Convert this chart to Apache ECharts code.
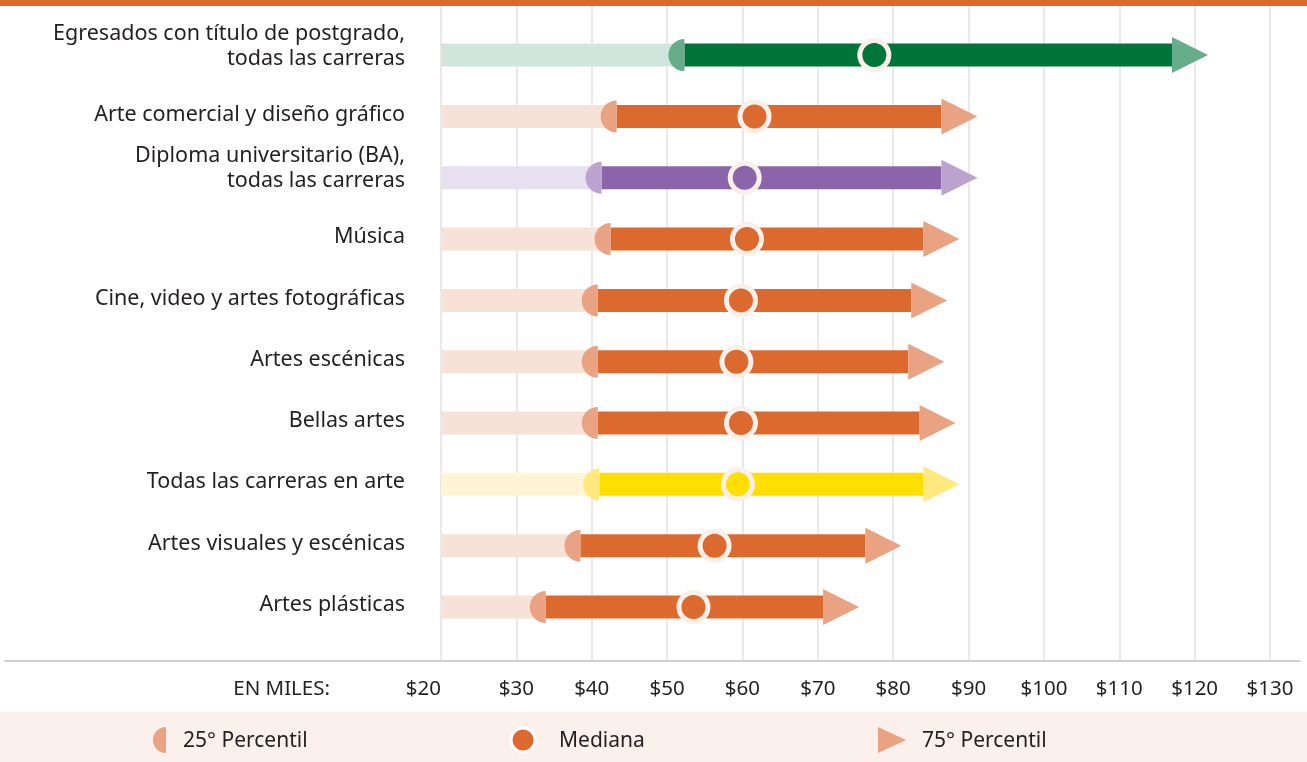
<!DOCTYPE html>
<html>
<head>
<meta charset="utf-8">
<script src="https://cdn.jsdelivr.net/npm/echarts@6/dist/echarts.min.js"></script>
<style>
  html, body { margin: 0; padding: 0; background: #fff; }
  #main { width: 1307px; height: 762px; }
</style>
</head>
<body>
<div id="main"></div>
<script>
// salarios por carrera (en miles de dólares)
var categories = [
    'Egresados con título de postgrado,\ntodas las carreras',
    'Arte comercial y diseño gráfico',
    'Diploma universitario (BA),\ntodas las carreras',
    'Música',
    'Cine, video y artes fotográficas',
    'Artes escénicas',
    'Bellas artes',
    'Todas las carreras en arte',
    'Artes visuales y escénicas',
    'Artes plásticas'
];
var p25 = [52.3, 43.3, 41.3, 42.5, 40.8, 40.8, 40.8, 41.0, 38.5, 33.9];
var median = [77.5, 61.6, 60.3, 60.6, 59.8, 59.2, 59.8, 59.4, 56.3, 53.5];
var p75 = [117.0, 86.4, 86.4, 84.0, 82.4, 82.0, 83.5, 84.0, 76.3, 70.7];
var axisMin = 20, axisMax = 130, axisStep = 10;

// colores por fila
var palette = {
    green: { light: '#d0e5db', dark: '#00753a', accent: '#67ad8a' },
    orange: { light: '#f7e2d8', dark: '#dc6a2f', accent: '#e9a282' },
    purple: { light: '#e8e0f0', dark: '#8c64aa', accent: '#bba3cf' },
    yellow: { light: '#fff5d5', dark: '#ffdf00', accent: '#ffe97e' }
};
var rowTheme = ['green', 'orange', 'purple', 'orange', 'orange', 'orange', 'orange', 'yellow', 'orange', 'orange'];

var FONT = 'Noto Sans';
var TEXT = '#231f20';

var rows = categories.map(function (c, i) {
    return [i, p25[i], median[i], p75[i]];
});

function renderRow(params, api) {
    var i = api.value(0);
    var c = palette[rowTheme[i]];
    var start = api.coord([axisMin, i]);
    var a = api.coord([api.value(1), i]);
    var m = api.coord([api.value(2), i]);
    var b = api.coord([api.value(3), i]);
    var y = a[1];
    var h = 23;
    var label = categories[i];
    var dy = label.indexOf('\n') >= 0 ? -9 : -2;
    return {
        type: 'group',
        children: [
            { type: 'rect', shape: { x: start[0], y: y - h / 2, width: a[0] - start[0], height: h }, style: { fill: c.light } },
            { type: 'rect', shape: { x: a[0], y: y - h / 2, width: b[0] - a[0], height: h }, style: { fill: c.dark } },
            { type: 'sector', shape: { cx: a[0], cy: y, r0: 0, r: 16, startAngle: Math.PI / 2, endAngle: Math.PI * 1.5, clockwise: true }, style: { fill: c.accent } },
            { type: 'polygon', shape: { points: [[b[0], y - 18], [b[0] + 36, y], [b[0], y + 18]] }, style: { fill: c.accent } },
            { type: 'circle', shape: { cx: m[0], cy: y, r: 14.5 }, style: { fill: c.dark, stroke: '#fbefe9', lineWidth: 5 } },
            {
                type: 'text', x: start[0] - 36, y: y + dy,
                style: { text: label, align: 'right', verticalAlign: 'middle', fill: TEXT, font: '21.5px "' + FONT + '"', lineHeight: 25 }
            }
        ]
    };
}

var myChart = echarts.init(document.getElementById('main'));
var option = {
    animation: false,
    backgroundColor: '#fff',
    grid: [
        { left: 441, right: 37, top: 6, bottom: 101 },
        { left: 5, right: 7, top: 655, bottom: 101 }
    ],
    xAxis: [
        {
            type: 'value', gridIndex: 0, min: axisMin, max: axisMax, interval: axisStep,
            axisLine: { show: false },
            axisTick: { show: false },
            splitLine: { show: true, lineStyle: { color: '#e2e2e2', width: 1.5 } },
            axisLabel: {
                margin: 18, color: TEXT, fontFamily: FONT, fontSize: 20.5,
                alignMinLabel: 'right',
                formatter: function (v) { return '$' + v; }
            }
        },
        {
            type: 'value', gridIndex: 1, min: 0, max: 1,
            axisLine: { show: true, lineStyle: { color: '#cfcfcf', width: 2 } },
            axisTick: { show: false }, axisLabel: { show: false }, splitLine: { show: false }
        }
    ],
    yAxis: [
        { type: 'value', gridIndex: 0, inverse: true, min: -0.8, max: 9.88, show: false },
        { type: 'value', gridIndex: 1, show: false }
    ],
    series: [
        {
            type: 'custom',
            name: 'salarios',
            xAxisIndex: 0, yAxisIndex: 0,
            renderItem: renderRow,
            encode: { x: [1, 2, 3], y: 0 },
            data: rows,
            clip: false
        }
    ],
    graphic: [
        { type: 'rect', left: 0, top: 0, shape: { width: 1307, height: 6 }, style: { fill: '#dc6a2f' } },
        {
            type: 'text', x: 330, y: 689,
            style: { text: 'EN MILES:', align: 'right', verticalAlign: 'middle', fill: TEXT, font: '20.5px "' + FONT + '"' }
        },
        // leyenda
        { type: 'rect', left: 0, top: 712, shape: { width: 1307, height: 50 }, style: { fill: '#fbf0eb' } },
        {
            type: 'sector', shape: { cx: 166, cy: 740, r0: 0, r: 13, startAngle: Math.PI / 2, endAngle: Math.PI * 1.5, clockwise: true },
            style: { fill: '#e9a282' }
        },
        { type: 'text', x: 183, y: 741, style: { text: '25° Percentil', verticalAlign: 'middle', fill: TEXT, font: '21px "' + FONT + '"' } },
        { type: 'circle', shape: { cx: 523, cy: 740, r: 12 }, style: { fill: '#dc6a2f', stroke: '#fff', lineWidth: 3 } },
        { type: 'text', x: 559, y: 741, style: { text: 'Mediana', verticalAlign: 'middle', fill: TEXT, font: '21px "' + FONT + '"' } },
        { type: 'polygon', shape: { points: [[878, 727], [906, 740], [878, 753]] }, style: { fill: '#e9a282' } },
        { type: 'text', x: 922, y: 741, style: { text: '75° Percentil', verticalAlign: 'middle', fill: TEXT, font: '21px "' + FONT + '"' } }
    ]
};
myChart.setOption(option);
</script>
</body>
</html>
